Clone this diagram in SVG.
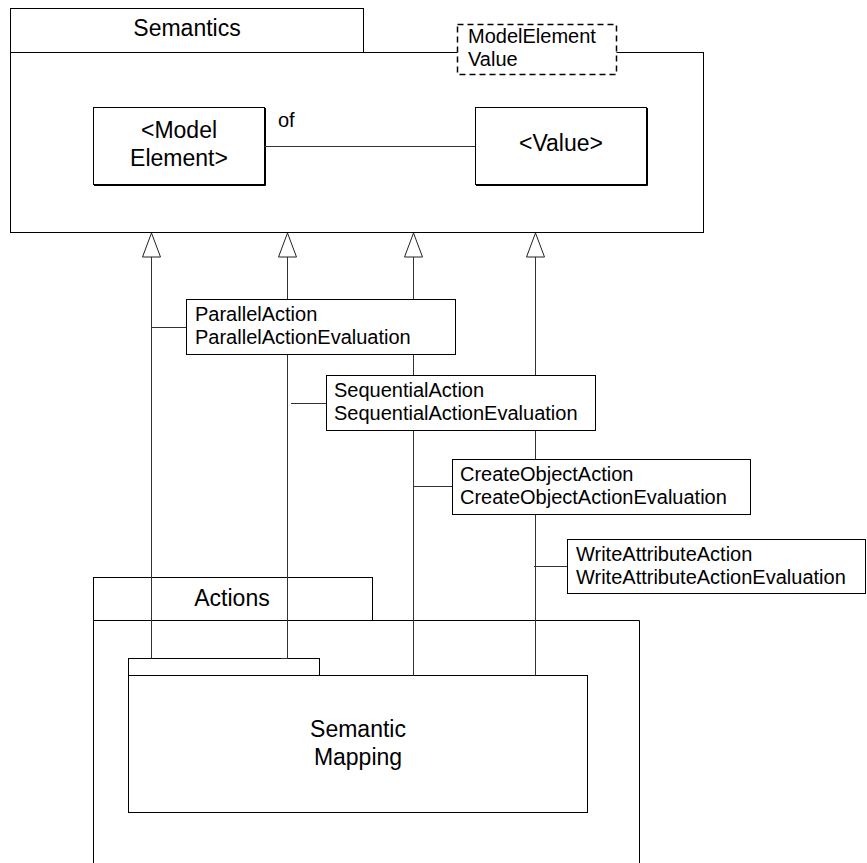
<svg xmlns="http://www.w3.org/2000/svg" width="867" height="863" viewBox="0 0 867 863">
<style>
  .box{fill:#fff;stroke:#000;stroke-width:1}
  .edge{fill:none;stroke:#000;stroke-width:1}
  .ln{stroke:#333;stroke-width:1;fill:none}
  .arr{fill:#fff;stroke:#222;stroke-width:1}
  .dash{fill:#fff;stroke:#000;stroke-width:1.5;stroke-dasharray:6 4}
  .h{font-family:"Liberation Sans",Arial,sans-serif;font-size:23px;fill:#000}
  .t{font-family:"Liberation Sans",Arial,sans-serif;font-size:20px;fill:#000}
</style>
<rect width="867" height="863" fill="#fff"/>

<g id="semantics">
  <rect x="10.5" y="8.5" width="353" height="44" class="box"/>
  <rect x="10.5" y="52.5" width="693" height="180" class="box"/>
  <text x="187" y="36" text-anchor="middle" class="h">Semantics</text>
</g>

<g id="note-modelelement-value">
  <rect x="457.5" y="24.5" width="159" height="50" class="dash"/>
  <text x="468" y="43" class="t">ModelElement</text>
  <text x="468" y="66" class="t">Value</text>
</g>

<g id="model-element">
  <rect x="93.5" y="107.5" width="171" height="77" class="box"/>
  <path d="M94 185.5 H265.5 V108" class="edge"/>
  <text x="179" y="138" text-anchor="middle" class="h">&lt;Model</text>
  <text x="179" y="166" text-anchor="middle" class="h">Element&gt;</text>
</g>

<g id="value">
  <rect x="475.5" y="107.5" width="171" height="77" class="box"/>
  <path d="M476 185.5 H647.5 V108" class="edge"/>
  <text x="561" y="151" text-anchor="middle" class="h">&lt;Value&gt;</text>
</g>

<g id="actions">
  <rect x="93.5" y="577.5" width="279" height="43" class="box"/>
  <path d="M93.5 864 V620.5 H639.5 V864" class="box"/>
  <text x="232" y="606" text-anchor="middle" class="h">Actions</text>
</g>

<g id="semantic-mapping">
  <rect x="128.5" y="658.5" width="191" height="17" class="box"/>
  <rect x="128.5" y="675.5" width="459" height="137" class="box"/>
  <text x="358" y="737" text-anchor="middle" class="h">Semantic</text>
  <text x="358" y="765" text-anchor="middle" class="h">Mapping</text>
</g>

<g id="connectors">
  <path d="M264.5 146.5 H475" class="ln"/>
  <text x="278" y="127" class="t">of</text>
  <path d="M151.5 257 V658.5" class="ln"/>
  <path d="M287.5 257 V658.5 H281" class="ln"/>
  <path d="M413.5 257 V675.5" class="ln"/>
  <path d="M535.5 257 V675.5" class="ln"/>
  <path d="M151.5 327.5 H186.5" class="ln"/>
  <path d="M291 403.5 H326.5" class="ln"/>
  <path d="M413.5 486.5 H452.5" class="ln"/>
  <path d="M534 566.5 H567.5" class="ln"/>
  <polygon points="151.5,233 142.5,257 160.5,257" class="arr"/>
  <polygon points="287.5,233 278.5,257 296.5,257" class="arr"/>
  <polygon points="413.5,233 404.5,257 422.5,257" class="arr"/>
  <polygon points="535.5,233 526.5,257 544.5,257" class="arr"/>
</g>

<g id="parallel-action">
  <rect x="186.5" y="299.5" width="269" height="55" class="box"/>
  <text x="195" y="321" class="t">ParallelAction</text>
  <text x="195" y="344" class="t">ParallelActionEvaluation</text>
</g>

<g id="sequential-action">
  <rect x="326.5" y="375.5" width="269" height="55" class="box"/>
  <text x="334" y="397" class="t">SequentialAction</text>
  <text x="334" y="420" class="t">SequentialActionEvaluation</text>
</g>

<g id="create-object-action">
  <rect x="452.5" y="459.5" width="298" height="55" class="box"/>
  <text x="460" y="481" class="t">CreateObjectAction</text>
  <text x="460" y="504" class="t">CreateObjectActionEvaluation</text>
</g>

<g id="write-attribute-action">
  <rect x="567.5" y="539.5" width="298" height="54" class="box"/>
  <text x="576" y="561" class="t">WriteAttributeAction</text>
  <text x="576" y="584" class="t">WriteAttributeActionEvaluation</text>
</g>
</svg>
